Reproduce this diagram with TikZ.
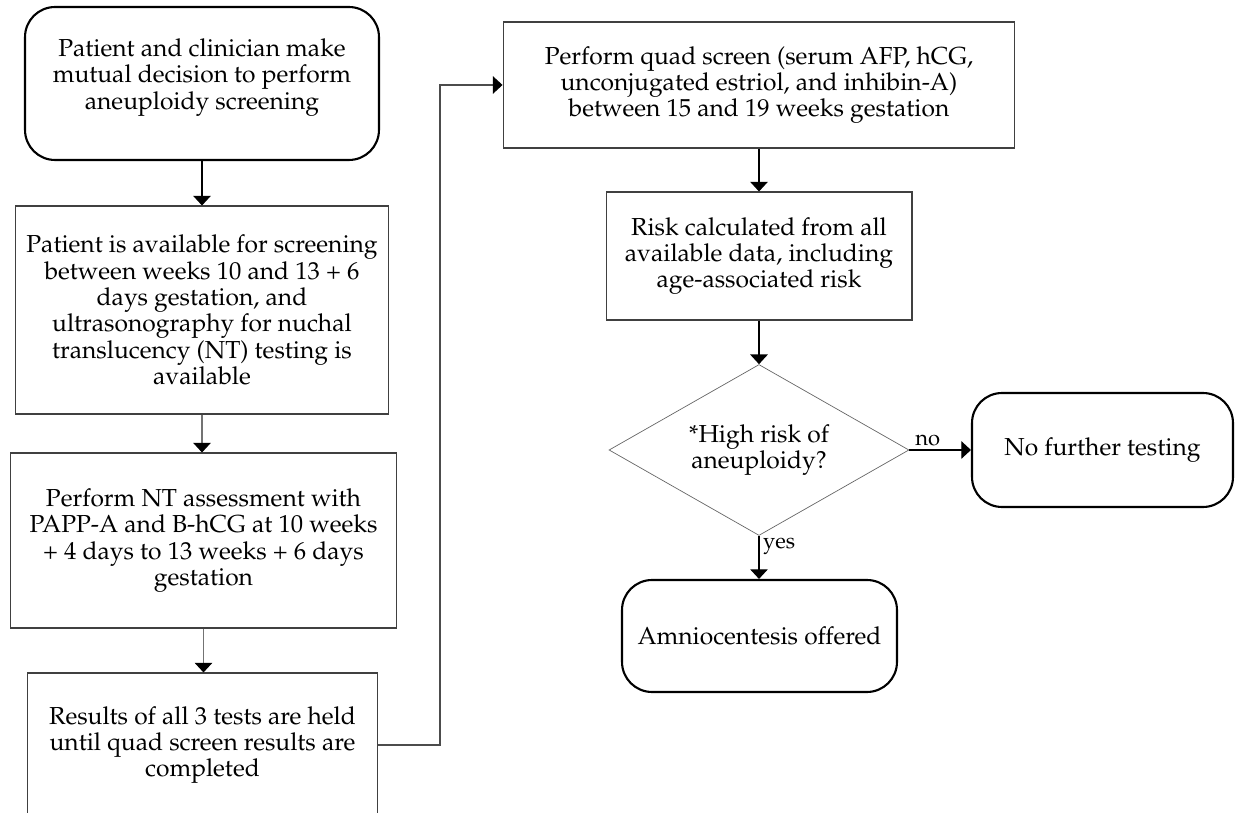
\documentclass[tikz,border=0pt]{standalone}
\usepackage[T1]{fontenc}
\usepackage{mathpazo}
\usepackage{tikz}
\usetikzlibrary{arrows.meta,shapes.geometric}
\tikzstyle{process}=[rectangle, draw=black!75, line width=0.6pt, align=center, inner sep=0pt]
\tikzstyle{terminal}=[rectangle, rounded corners=0.6cm, draw, line width=1.2pt, align=center, inner sep=0pt]
\tikzstyle{decision}=[diamond, aspect=1.75, draw=black!60, line width=0.4pt, align=center, inner sep=0pt]
\tikzstyle{answer}=[font=\fontsize{12.5}{14}\selectfont, inner sep=2pt]
\newcommand{\procbox}{\node[process]}
\newcommand{\termbox}{\node[terminal]}

\begin{document}
\begin{tikzpicture}[x=0.02cm, y=-0.02cm
    ,font=\fontsize{14}{15}\selectfont
    ,>={Triangle[width=10pt,length=5.5pt,color=black]}
    ,every edge/.style={draw, line width=0.6pt, ->}
]
\useasboundingbox (0,0) rectangle (1235,813);
\clip (0,0) rectangle (1235,813);
% left column
\termbox[minimum width=7.08cm, minimum height=3.06cm] (start) at (202,83.5)
  {Patient and clinician make\\ mutual decision to perform\\ aneuploidy screening\\[-4pt]\mbox{}};
\procbox[minimum width=7.48cm, minimum height=4.16cm] (avail) at (202,310)
  {Patient is available for screening\\ between weeks 10 and 13 + 6\\ days gestation, and\\
   ultrasonography for nuchal\\ translucency (NT) testing is\\ available};
\procbox[minimum width=7.74cm, minimum height=3.5cm] (ntassess) at (203.5,540.5)
  {Perform NT assessment with\\ PAPP-A and B-hCG at 10 weeks\\ + 4 days to 13 weeks + 6 days\\ gestation};
\procbox[minimum width=7.02cm, minimum height=2.88cm] (held) at (202.5,745)
  {Results of all 3 tests are held\\ until quad screen results are\\ completed};
% right column
\procbox[minimum width=10.24cm, minimum height=2.52cm] (quad) at (759,85)
  {Perform quad screen (serum AFP, hCG,\\ unconjugated estriol, and inhibin-A)\\ between 15 and 19 weeks gestation};
\procbox[minimum width=6.12cm, minimum height=2.56cm] (risk) at (759,256)
  {Risk calculated from all\\ available data, including\\ age-associated risk};
\node[decision, minimum width=6cm, minimum height=3.42cm] (highrisk) at (759,450)
  {*High risk of\\ aneuploidy?};
\termbox[minimum width=5.22cm, minimum height=2.28cm] (nofurther) at (1102.5,450) {No further testing};
\termbox[minimum width=5.5cm, minimum height=2.24cm] (amnio) at (759.5,636) {Amniocentesis offered};
\coordinate (bend) at (440,745);

\path
(start) edge (avail)
(avail.south) edge[draw=black!55] (avail.south |- ntassess.north)
(ntassess.south) edge[draw=black!55] (ntassess.south |- held.north)
(quad) edge (risk)
(risk) edge (highrisk)
(highrisk) edge node[answer, above, pos=0.3] {no} (nofurther)
(highrisk.south) edge node[answer, right, pos=0.25] {yes} (highrisk.south |- amnio.north)
;
\draw[line width=0.6pt, draw=black!70, ->] (held.east) -- (bend) |- (quad.west);
\end{tikzpicture}
\end{document}
